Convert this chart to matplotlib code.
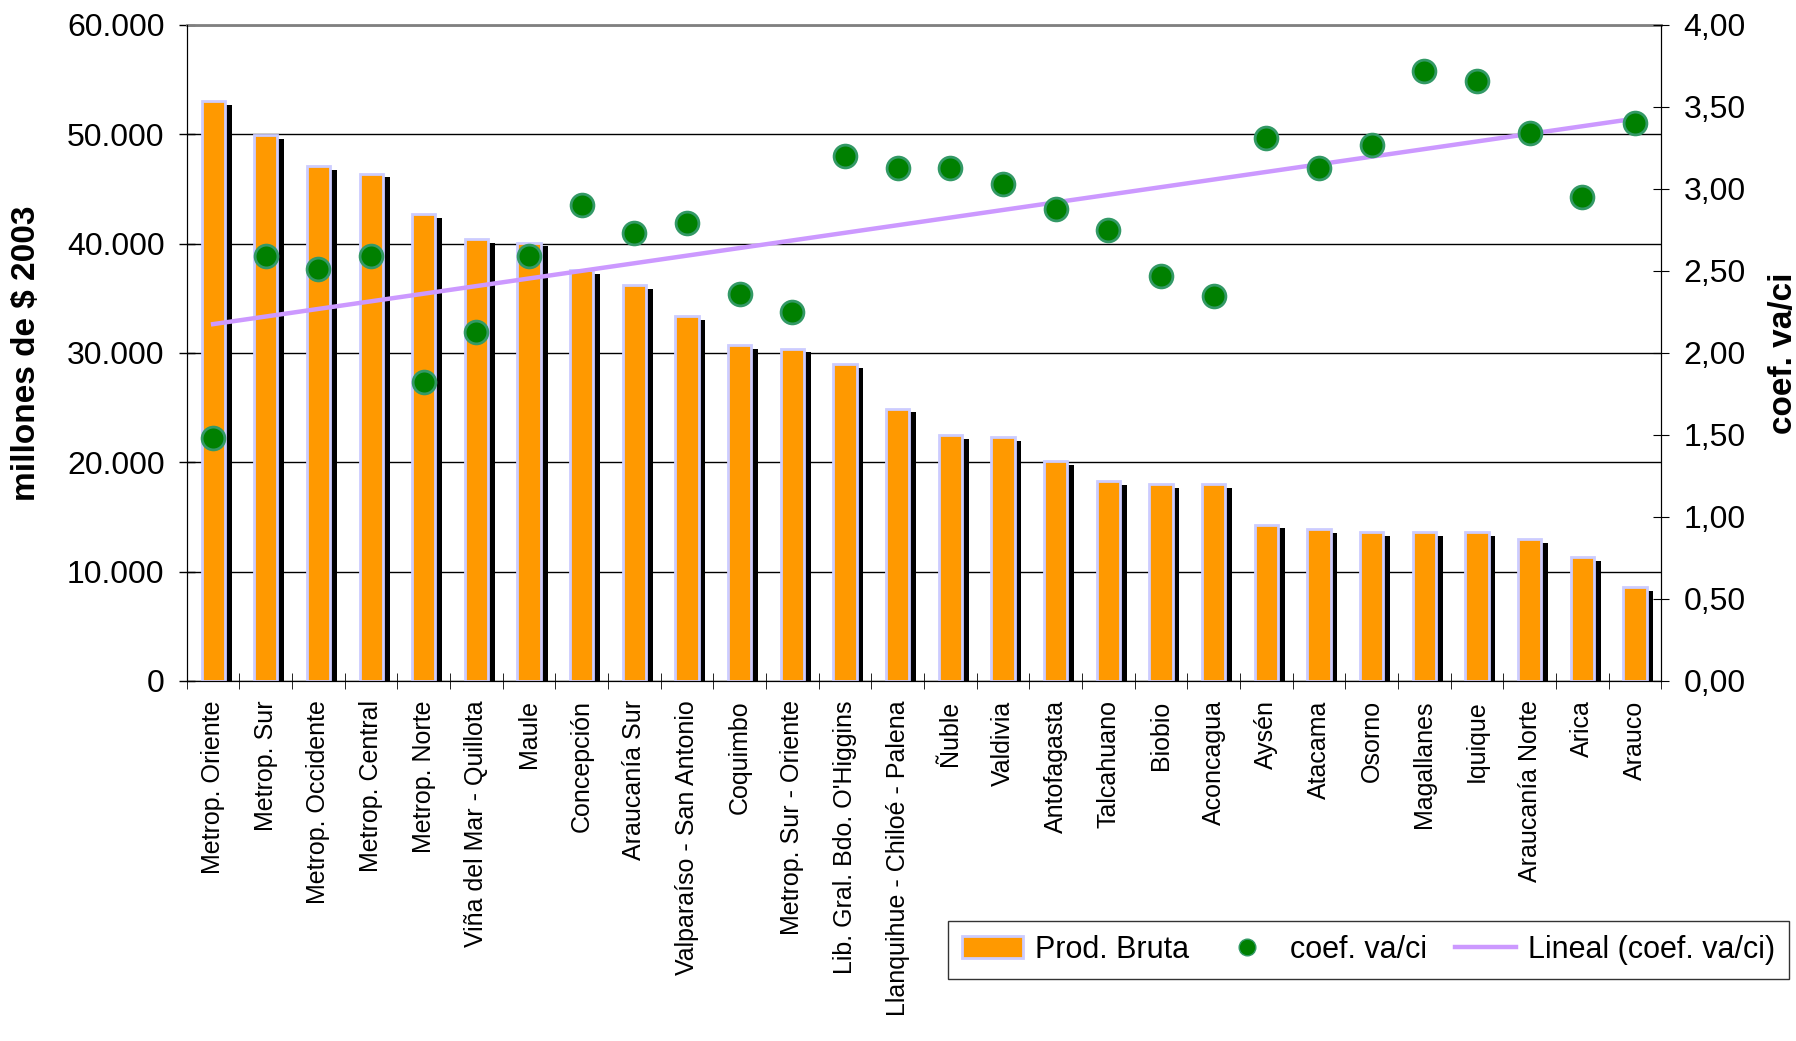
import numpy as np
import matplotlib.pyplot as plt
from matplotlib.ticker import FuncFormatter, MultipleLocator
from matplotlib.patches import Patch
from matplotlib.lines import Line2D

plt.rcParams['font.family'] = ['Liberation Sans', 'DejaVu Sans']

regiones = ['Metrop. Oriente', 'Metrop. Sur', 'Metrop. Occidente', 'Metrop. Central',
            'Metrop. Norte', 'Viña del Mar - Quillota', 'Maule', 'Concepción',
            'Araucanía Sur', 'Valparaíso - San Antonio', 'Coquimbo', 'Metrop. Sur - Oriente',
            "Lib. Gral. Bdo. O'Higgins", 'Llanquihue - Chiloé - Palena', 'Ñuble', 'Valdivia',
            'Antofagasta', 'Talcahuano', 'Biobio', 'Aconcagua', 'Aysén', 'Atacama',
            'Osorno', 'Magallanes', 'Iquique', 'Araucanía Norte', 'Arica', 'Arauco']

prod_bruta = [53000, 49900, 47100, 46400, 42700, 40400, 40100, 37600, 36200, 33400,
              30700, 30400, 29000, 24900, 22500, 22300, 20100, 18300, 18000, 18000,
              14300, 13900, 13600, 13600, 13600, 13000, 11300, 8600]

coef = [1.48, 2.59, 2.51, 2.59, 1.82, 2.13, 2.59, 2.90, 2.73, 2.79, 2.36, 2.25,
        3.20, 3.13, 3.13, 3.03, 2.88, 2.75, 2.47, 2.35, 3.31, 3.13, 3.27, 3.72,
        3.66, 3.34, 2.95, 3.40]

x = np.arange(len(regiones))
prod = np.array(prod_bruta)
ca = np.array(coef)

fig = plt.figure(figsize=(17.96, 10.41), dpi=100)
ax = fig.add_axes([0.104, 0.346, 0.821, 0.630])

# sombra negra detras de cada barra
ax.bar(x + 0.13, prod - 350, width=0.44, color='black', zorder=2)
ax.bar(x, prod, width=0.44, color='#ff9900', edgecolor='#ccccff', linewidth=2, zorder=3)

ax.set_xlim(-0.5, len(regiones) - 0.5)
ax.set_ylim(0, 60000)
ax.yaxis.set_major_locator(MultipleLocator(10000))
ax.yaxis.set_major_formatter(FuncFormatter(lambda v, p: f'{int(v):,}'.replace(',', '.')))
ax.grid(axis='y', color='black', linewidth=1, zorder=0)
ax.set_axisbelow(True)
ax.tick_params(axis='y', direction='inout', length=12, labelsize=23, width=1, pad=10)
ax.set_xticks(x)
ax.set_xticklabels(regiones, rotation=90, fontsize=18)
ax.tick_params(axis='x', length=0, pad=14)
ax.set_xticks(np.arange(-0.5, len(regiones), 1), minor=True)
ax.tick_params(axis='x', which='minor', direction='inout', length=12)
ax.set_ylabel('millones de $ 2003', fontsize=24, fontweight='bold', labelpad=18)
ax.spines['top'].set_color('#808080')
ax.spines['top'].set_linewidth(2)

ax2 = ax.twinx()
ax2.set_ylim(0, 4)
ax2.yaxis.set_major_locator(MultipleLocator(0.5))
ax2.yaxis.set_major_formatter(FuncFormatter(lambda v, p: f'{v:.2f}'.replace('.', ',')))
ax2.tick_params(axis='y', direction='inout', length=12, labelsize=23, pad=10)
ax2.set_ylabel('coef. va/ci', fontsize=24, fontweight='bold', labelpad=16)
ax2.spines['top'].set_visible(False)

ax2.scatter(x, ca, s=270, color='#008000', edgecolor='#339966', linewidth=2, zorder=5)
m, b = np.polyfit(x, ca, 1)
ax2.plot(x, m * x + b, color='#cc99ff', linewidth=3.2, zorder=4)

handles = [Patch(facecolor='#ff9900', edgecolor='#ccccff', linewidth=2),
           Line2D([], [], marker='o', linestyle='none', markersize=12,
                  markerfacecolor='#008000', markeredgecolor='#339966'),
           Line2D([], [], color='#cc99ff', linewidth=3.2)]
leg = fig.legend(handles, ['Prod. Bruta', 'coef. va/ci', 'Lineal (coef. va/ci)'],
                 loc='lower right', bbox_to_anchor=(0.996, 0.06), ncol=3, fontsize=22,
                 frameon=True, fancybox=False, edgecolor='black', handlelength=2.0,
                 columnspacing=0.9, handletextpad=0.4, borderpad=0.45, borderaxespad=0)
leg.get_frame().set_linewidth(1)

fig.savefig('out.png', dpi=100)
